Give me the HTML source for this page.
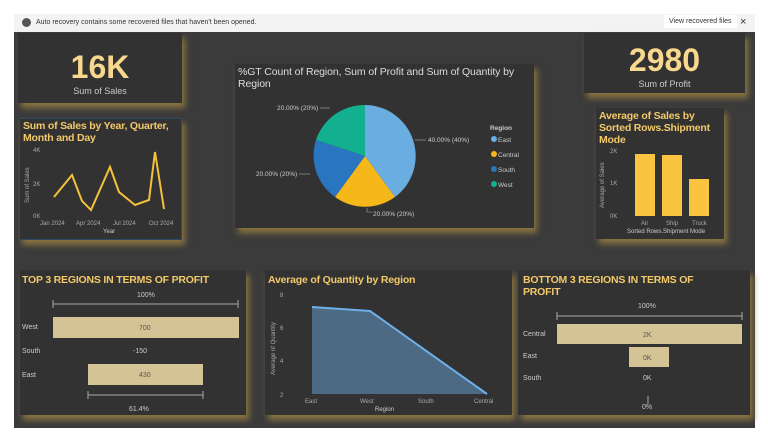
<!DOCTYPE html>
<html><head><meta charset="utf-8"><style>
body{margin:0;width:768px;height:444px;background:#fff;position:relative;overflow:hidden;font-family:"Liberation Sans",sans-serif}
.a{position:absolute}
.bar{left:14px;top:14px;width:741px;height:18px;background:#f3f3f3;font-size:7px;color:#333}
.cv{left:14px;top:32px;width:741px;height:396px;background:#3b3b3b}
.p{position:absolute;background:#323232;box-shadow:3px 5px 6px #8a7440}
.t{color:#f3c969;font-weight:bold;white-space:nowrap}
svg text{font-family:"Liberation Sans",sans-serif}
</style></head><body>
<div class="a bar"><span class="a" style="left:8px;top:4px;width:9px;height:9px;border-radius:50%;background:#555"></span><span class="a" style="left:22px;top:5px">Auto recovery contains some recovered files that haven't been opened.</span><span class="a" style="left:650px;top:1px;background:#fff;padding:3px 5px">View recovered files</span><span class="a" style="left:726px;top:2px;font-size:11px">×</span></div>
<div class="a cv"></div>

<div class="p" style="left:18px;top:33px;width:164px;height:70px;text-align:center"><div style="color:#f8d78f;font-weight:bold;font-size:32px;margin-top:16px">16K</div><div style="color:#ccc;font-size:9px">Sum of Sales</div></div>
<div class="p" style="left:584px;top:33px;width:161px;height:60px;text-align:center"><div style="color:#f8d78f;font-weight:bold;font-size:32px;margin-top:9px">2980</div><div style="color:#ccc;font-size:9px">Sum of Profit</div></div>

<div class="p" style="left:19px;top:118px;width:163px;height:122px;border:1px solid #2e4a66;box-sizing:border-box">
<div class="t a" style="left:3px;top:1px;font-size:10.5px;line-height:12px;letter-spacing:-0.2px">Sum of Sales by Year, Quarter,<br>Month and Day</div>
<svg class="a" style="left:0;top:0" width="163" height="122"><g font-size="6" fill="#aaa">
<text x="13" y="33">4K</text><text x="13" y="67">2K</text><text x="13" y="99">0K</text>
<text x="20" y="106">Jan 2024</text><text x="56" y="106">Apr 2024</text><text x="93" y="106">Jul 2024</text><text x="129" y="106">Oct 2024</text>
<text x="83" y="114" fill="#ccc">Year</text>
<text transform="translate(9,84) rotate(-90)">Sum of Sales</text></g>
<polyline fill="none" stroke="#f3c13a" stroke-width="2" points="34,78 52,56 62,82 71,91 90,48 99,73 115,86 129,81 135,33 144,90"/></svg></div>

<div class="p" style="left:235px;top:64px;width:299px;height:164px">
<div class="a" style="left:3px;top:2px;color:#ddd;font-size:10.5px;line-height:12px;white-space:nowrap;letter-spacing:-0.1px">%GT Count of Region, Sum of Profit and Sum of Quantity by<br>Region</div>
<svg class="a" style="left:0;top:0" width="299" height="164">
<g transform="translate(130,92)">
<path d="M0,0 L0,-51 A51,51 0 0 1 30,41 Z" fill="#6aade0"/>
<path d="M0,0 L30,41 A51,51 0 0 1 -30,41 Z" fill="#f6b71b"/>
<path d="M0,0 L-30,41 A51,51 0 0 1 -49,-16 Z" fill="#2a75c0"/>
<path d="M0,0 L-49,-16 A51,51 0 0 1 0,-51 Z" fill="#12b08f"/></g>
<g font-size="6.5" fill="#ccc"><text x="193" y="78">40.00% (40%)</text><text x="138" y="152">20.00% (20%)</text><text x="42" y="46">20.00% (20%)</text><text x="21" y="112">20.00% (20%)</text>
<text x="255" y="66" font-weight="bold">Region</text>
<circle cx="259" cy="75" r="3" fill="#6aade0"/><text x="263" y="78">East</text>
<circle cx="259" cy="90" r="3" fill="#f6b71b"/><text x="263" y="93">Central</text>
<circle cx="259" cy="105" r="3" fill="#2a75c0"/><text x="263" y="108">South</text>
<circle cx="259" cy="120" r="3" fill="#12b08f"/><text x="263" y="123">West</text></g>
<g stroke="#aaa" stroke-width=".6" fill="none"><path d="M180,76 H191"/><path d="M85,44 H95"/><path d="M64,110 H75"/><path d="M132,144 V148 H137"/></g></svg></div>

<div class="p" style="left:596px;top:108px;width:128px;height:131px">
<div class="t a" style="left:3px;top:2px;font-size:10.5px;line-height:12px;letter-spacing:-0.2px">Average of Sales by<br>Sorted Rows.Shipment<br>Mode</div>
<svg class="a" style="left:0;top:0" width="128" height="131"><g font-size="6" fill="#aaa">
<text x="14" y="45">2K</text><text x="14" y="77">1K</text><text x="14" y="110">0K</text>
<text x="45" y="117">Air</text><text x="70" y="117">Ship</text><text x="96" y="117">Truck</text>
<text x="31" y="125" fill="#ccc">Sorted Rows.Shipment Mode</text>
<text transform="translate(8,100) rotate(-90)">Average of Sales</text></g>
<rect x="39" y="46" width="20" height="62" fill="#f9c440"/><rect x="66" y="47" width="20" height="61" fill="#f9c440"/><rect x="93" y="71" width="20" height="37" fill="#f9c440"/></svg></div>

<div class="p" style="left:20px;top:270px;width:226px;height:145px">
<div class="t a" style="left:2px;top:4px;font-size:10.5px;letter-spacing:-0.2px">TOP 3 REGIONS IN TERMS OF PROFIT</div>
<svg class="a" style="left:0;top:0" width="226" height="145"><g font-size="7" fill="#ccc">
<text x="117" y="27">100%</text><text x="2" y="59">West</text><text x="2" y="83">South</text><text x="2" y="107">East</text><text x="113" y="83">-150</text><text x="109" y="141">61.4%</text></g>
<path d="M33,30 V38 M33,34 H218 M218,30 V38 M68,121 V129 M68,125 H183 M183,121 V129" stroke="#aaa"/>
<rect x="33" y="47" width="186" height="21" fill="#d4c394"/><rect x="68" y="94" width="115" height="21" fill="#d4c394"/>
<g font-size="7" fill="#555"><text x="119" y="60">700</text><text x="119" y="107">430</text></g></svg></div>

<div class="p" style="left:265px;top:270px;width:247px;height:145px">
<div class="t a" style="left:3px;top:4px;font-size:10.5px;letter-spacing:-0.2px">Average of Quantity by Region</div>
<svg class="a" style="left:0;top:0" width="247" height="145"><g font-size="6" fill="#aaa">
<text x="15" y="27">8</text><text x="15" y="93">4</text><text x="15" y="60">6</text><text x="15" y="127">2</text>
<text x="40" y="133">East</text><text x="95" y="133">West</text><text x="153" y="133">South</text><text x="209" y="133">Central</text>
<text x="110" y="141" fill="#ccc">Region</text>
<text transform="translate(10,105) rotate(-90)">Average of Quantity</text></g>
<path d="M47,37 L105,41 L222,124 L47,124 Z" fill="#4d6a85"/><polyline points="47,37 105,41 222,124" fill="none" stroke="#6fb0e8" stroke-width="2"/></svg></div>

<div class="p" style="left:518px;top:270px;width:232px;height:145px">
<div class="t a" style="left:5px;top:4px;font-size:10.5px;line-height:12px;letter-spacing:-0.2px">BOTTOM 3 REGIONS IN TERMS OF<br>PROFIT</div>
<svg class="a" style="left:0;top:0" width="232" height="145"><g font-size="7" fill="#ccc">
<text x="120" y="38">100%</text><text x="5" y="66">Central</text><text x="5" y="88">East</text><text x="5" y="110">South</text><text x="125" y="110">0K</text><text x="124" y="139">0%</text></g>
<path d="M39,42 V50 M39,46 H224 M224,42 V50 M130,126 V134" stroke="#aaa"/>
<rect x="39" y="54" width="185" height="20" fill="#d4c394"/><rect x="111" y="77" width="40" height="20" fill="#d4c394"/>
<g font-size="7" fill="#555"><text x="125" y="67">2K</text><text x="125" y="90">0K</text></g></svg></div>
</body></html>
